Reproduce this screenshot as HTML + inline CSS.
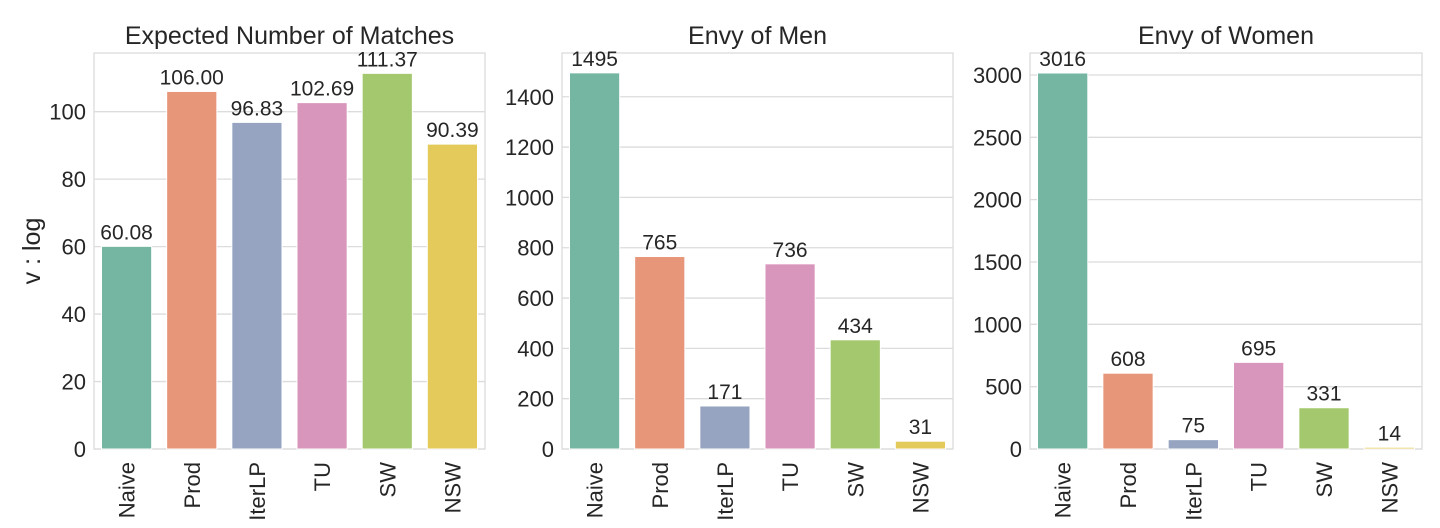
<!DOCTYPE html>
<html><head><meta charset="utf-8"><style>
html,body{margin:0;padding:0;background:#fff;width:1440px;height:528px;overflow:hidden}
text{font-family:"Liberation Sans",Arial,sans-serif;fill:#262626}
</style></head><body>
<svg id="s" width="1440" height="528" xmlns="http://www.w3.org/2000/svg"></svg>
<script>
const cols=["#74b6a1","#e7967a","#96a4c1","#d996bc","#a4c86e","#e4c95b"];
const cats=["Naive","Prod","IterLP","TU","SW","NSW"];
const panels=[
 {l:94,r:485,title:"Expected Number of Matches",vals:[60.08,106.00,96.83,102.69,111.37,90.39],labs:["60.08","106.00","96.83","102.69","111.37","90.39"],ticks:[0,20,40,60,80,100],sc:3.373},
 {l:562,r:953,title:"Envy of Men",vals:[1495,765,171,736,434,31],labs:["1495","765","171","736","434","31"],ticks:[0,200,400,600,800,1000,1200,1400],sc:0.2516},
 {l:1030,r:1422,title:"Envy of Women",vals:[3016,608,75,695,331,14],labs:["3016","608","75","695","331","14"],ticks:[0,500,1000,1500,2000,2500,3000],sc:0.12467}
];
const B=449,T=53;let h="";
for(const p of panels){
 const w=p.r-p.l;
 for(const t of p.ticks){const y=B-t*p.sc;
  h+=`<line x1="${p.l}" x2="${p.r}" y1="${y}" y2="${y}" stroke="#dcdcdc" stroke-width="1.3"/>`;
  h+=`<text x="${p.l-8}" y="${y+8}" font-size="22" text-anchor="end">${t}</text>`;}
 h+=`<rect x="${p.l}" y="${T}" width="${w}" height="${B-T}" fill="none" stroke="#dcdcdc" stroke-width="1.3"/>`;
 const step=w/6;
 p.vals.forEach((v,i)=>{const x=p.l+step*i+step*0.115,bw=step*0.77,y=B-v*p.sc,cx=x+bw/2;
  h+=`<rect x="${x}" y="${y}" width="${bw}" height="${v*p.sc}" fill="${cols[i]}" stroke="#fff" stroke-width="1"/>`;
  h+=`<text x="${cx}" y="${y-7}" font-size="21" text-anchor="middle">${p.labs[i]}</text>`;
  h+=`<text transform="translate(${cx+8},462) rotate(-90)" font-size="22" text-anchor="end">${cats[i]}</text>`;});
 h+=`<text x="${(p.l+p.r)/2}" y="44" font-size="25" text-anchor="middle">${p.title}</text>`;
}
h+=`<text transform="translate(40,251) rotate(-90)" font-size="25" text-anchor="middle">v : log</text>`;
document.getElementById("s").innerHTML=h;
</script>
</body></html>
